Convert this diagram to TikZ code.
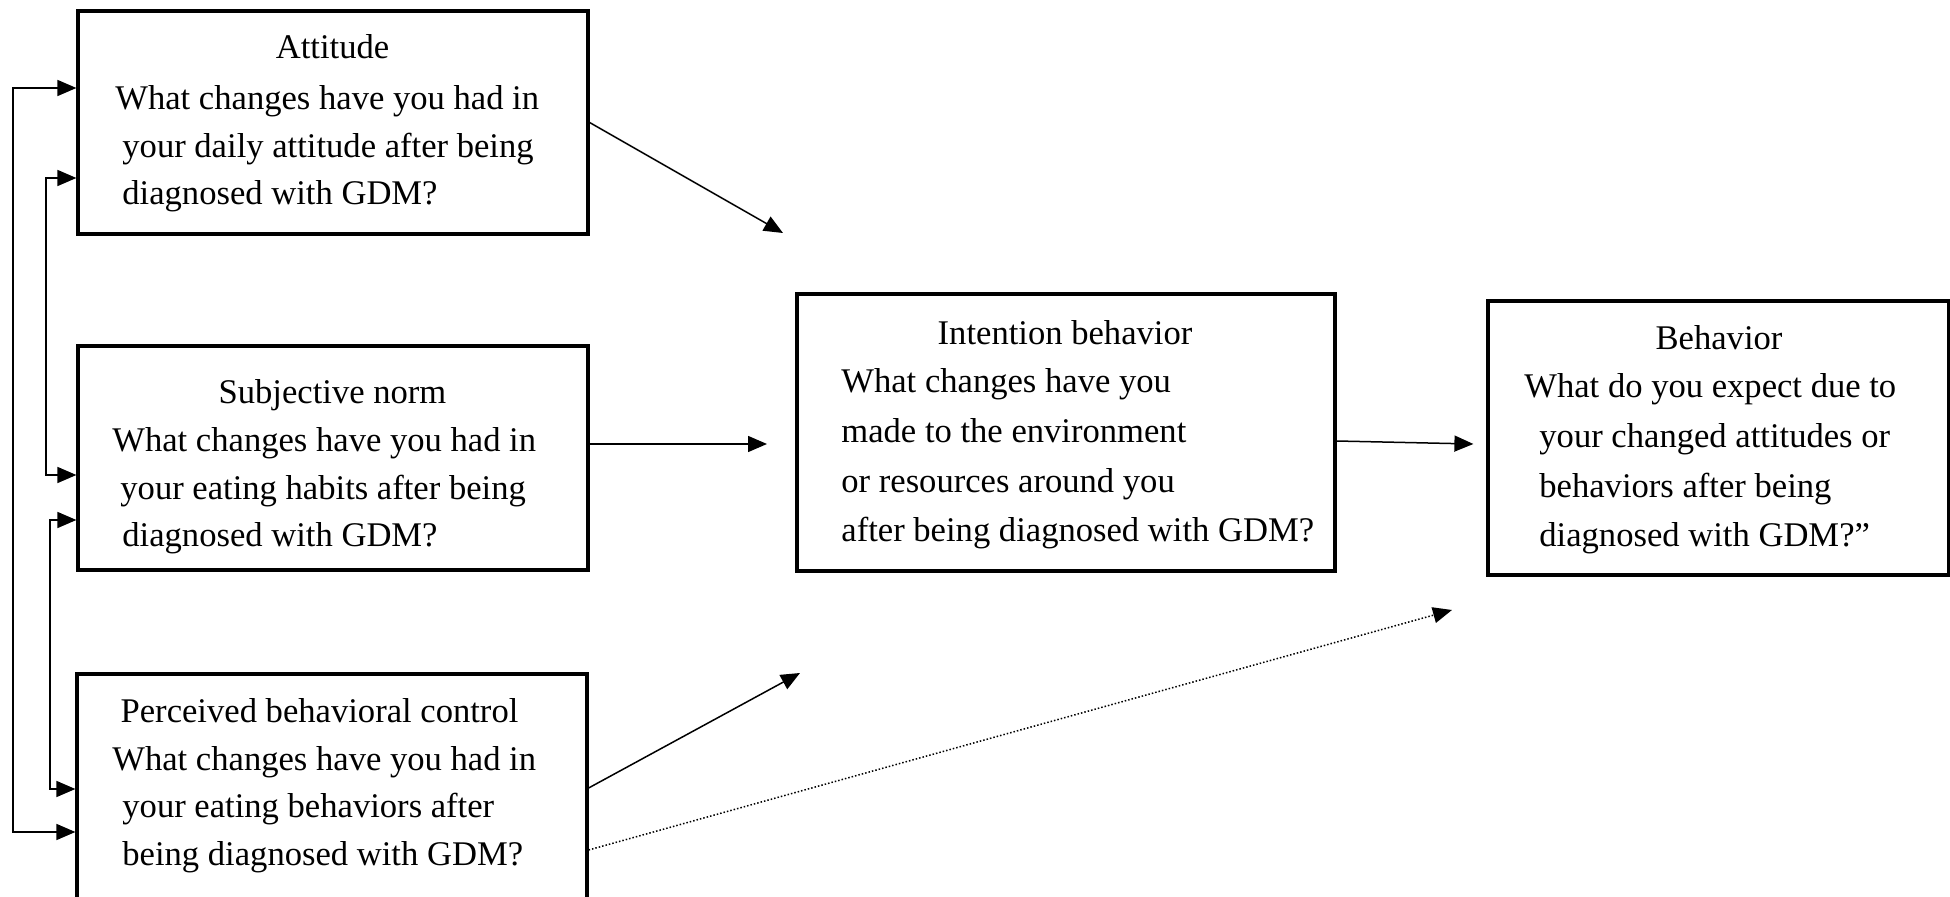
\documentclass[tikz,border=0pt]{standalone}
\usepackage{fontspec}
\setmainfont{Liberation Serif}
\usetikzlibrary{arrows.meta,calc}
\begin{document}
\begin{tikzpicture}[x=0.5pt,y=-0.5pt,
  box/.style={draw=black, line width=1.6pt, rectangle, inner sep=0pt},
  ttl/.style={anchor=base, inner sep=0pt, font=\fontsize{17.3}{23.75}\selectfont},
  bodyL/.style={anchor=base west, inner sep=0pt, font=\fontsize{17.3}{23.75}\selectfont},
  bodyR/.style={anchor=base west, inner sep=0pt, font=\fontsize{17.3}{24.8}\selectfont},
  conn/.style={line width=0.75pt, -{Triangle[length=9.5pt,width=8pt]}},
  conntwo/.style={line width=0.75pt, {Triangle[length=9.5pt,width=8pt]}-{Triangle[length=9.5pt,width=8pt]}}
]
\useasboundingbox (0,0) rectangle (1950,897);
\clip (0,0) rectangle (1950,897);
\fill[white] (0,0) rectangle (1950,897);

% boxes
\node[box, minimum width=255pt, minimum height=111.5pt] (att) at (333,122.5) {};
\node[box, minimum width=255pt, minimum height=112pt] (subj) at (333,458) {};
\node[box, minimum width=255pt, minimum height=133pt] (perc) at (332,807) {};
\node[box, minimum width=269pt, minimum height=138.5pt] (int) at (1066,432.5) {};
\node[box, minimum width=230.5pt, minimum height=137pt] (beh) at (1718.5,438) {};

% titles
\node[ttl] (attT) at (332.5,59) {Attitude};
\node[ttl] (subjT) at (332.5,404) {Subjective norm};
\node[ttl] (percT) at (319.5,723) {Perceived behavioral control};
\node[ttl] (intT) at (1065,345) {Intention behavior};
\node[ttl] (behT) at (1719,350) {Behavior};

% body texts
\node[bodyL] (attB) at (115,110) {\begin{tabular}[t]{@{}l@{}}What changes have you had in\\\hspace*{3.5pt}your daily attitude after being\\\hspace*{3.5pt}diagnosed with GDM?\end{tabular}};
\node[bodyL] (subjB) at (112,452) {\begin{tabular}[t]{@{}l@{}}What changes have you had in\\\hspace*{4pt}your eating habits after being\\\hspace*{5pt}diagnosed with GDM?\end{tabular}};
\node[bodyL] (percB) at (112,770) {\begin{tabular}[t]{@{}l@{}}What changes have you had in\\\hspace*{5pt}your eating behaviors after\\\hspace*{5pt}being diagnosed with GDM?\end{tabular}};
\node[bodyR] (intB) at (841,393) {\begin{tabular}[t]{@{}l@{}}What changes have you\\made to the environment\\or resources around you\\after being diagnosed with GDM?\end{tabular}};
\node[bodyR] (behB) at (1524,398) {\begin{tabular}[t]{@{}l@{}}What do you expect due to\\\hspace*{7.5pt}your changed attitudes or\\\hspace*{7.5pt}behaviors after being\\\hspace*{7.5pt}diagnosed with GDM?”\end{tabular}};

% free ends
\coordinate (t1) at (783,233);
\coordinate (t2) at (767,444);
\coordinate (t3) at (800,673);
\coordinate (t4) at (1452,610);
\coordinate (o1) at (13,460);
\coordinate (o2) at (46,320);
\coordinate (o3) at (50,650);

% connectors
\draw[conn] (att.east) -- (t1);
\draw[conn] (subj.east |- t2) -- (t2);
\draw[conn] ($(perc.east)+(0,-19)$) -- (t3);
\draw[conn, densely dotted] ($(perc.east)+(0,43)$) -- (t4);
\draw[conn] ($(int.east)+(0,8.5)$) -- ($(beh.west)+(-13,6)$);

\draw[conntwo] ($(att.west)+(0,-34.5)$) -| (o1) |- ($(perc.west)+(0,25)$);
\draw[conntwo] ($(att.west)+(0,55.5)$) -| (o2) |- ($(subj.west)+(0,17)$);
\draw[conntwo] ($(subj.west)+(0,62)$) -| (o3) |- ($(perc.west)+(0,-18)$);
\end{tikzpicture}
\end{document}
